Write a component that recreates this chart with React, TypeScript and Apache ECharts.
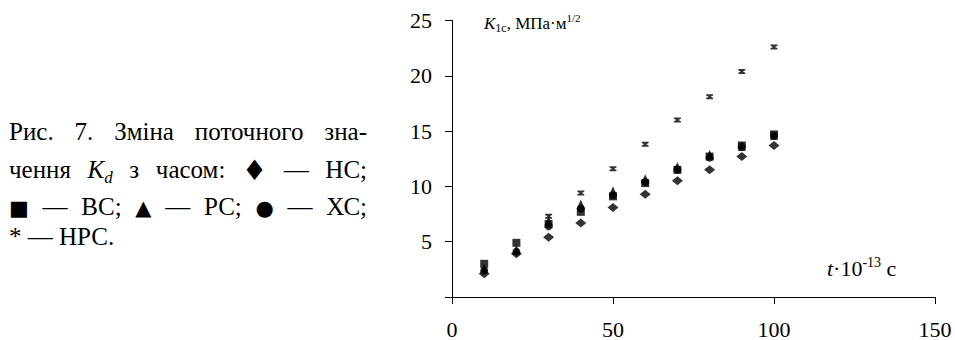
import React, { useEffect, useRef } from "react";
import * as echarts from "echarts";

// ---- data ----
const timeValues = [10, 20, 30, 40, 50, 60, 70, 80, 90, 100];
const hcValues = [2.1, 3.9, 5.4, 6.7, 8.1, 9.3, 10.5, 11.5, 12.7, 13.7]; // НС ♦
const vcValues = [3.0, 4.9, 6.6, 7.7, 9.1, 10.3, 11.5, 12.7, 13.7, 14.7]; // ВС ■
const rcValues = [2.6, 4.3, 6.9, 8.4, 9.6, 10.7, 11.8, 12.9, 13.6, 14.6]; // РС ▲
const xcValues = [2.4, 4.1, 6.4, 8.0, 9.2, 10.4, 11.5, 12.6, 13.6, 14.6]; // ХС ●
const hrcValues = [null, null, 7.3, 9.4, 11.6, 13.8, 16.0, 18.1, 20.4, 22.6]; // НРС *
const seriesNames = ["НС", "ВС", "РС", "ХС", "НРС"];
const xAxisRange = { min: 0, max: 150, interval: 50 };
const yAxisRange = { min: 0, max: 25, interval: 5 };

const FONT = "Liberation Serif";
const SYMFONT = "DejaVu Sans";

type Seg = { t: string; size: number; italic?: boolean; dy?: number; family?: string };

const CAP = 25;
const SYM = 21;
const captionLines: Seg[][][] = [
  [[{ t: "Рис.", size: CAP }], [{ t: "7.", size: CAP }], [{ t: "Зміна", size: CAP }], [{ t: "поточного", size: CAP }], [{ t: "зна-", size: CAP }]],
  [
    [{ t: "чення", size: CAP }],
    [{ t: "K", size: CAP, italic: true }, { t: "d", size: 17, italic: true, dy: 5 }],
    [{ t: "з", size: CAP }],
    [{ t: "часом:", size: CAP }],
    [{ t: "♦", size: 28, family: SYMFONT, dy: 2 }],
    [{ t: "—", size: CAP }],
    [{ t: "НС;", size: CAP }],
  ],
  [
    [{ t: "■", size: SYM, family: SYMFONT }], [{ t: "—", size: CAP }], [{ t: "ВС;", size: CAP }],
    [{ t: "▲", size: SYM, family: SYMFONT }], [{ t: "—", size: CAP }], [{ t: "РС;", size: CAP }],
    [{ t: "●", size: SYM, family: SYMFONT }], [{ t: "—", size: CAP }], [{ t: "ХС;", size: CAP }],
  ],
  [[{ t: "*", size: CAP }], [{ t: "—", size: CAP }], [{ t: "НРС.", size: CAP }]],
];
const captionBaselines = [140, 178, 215, 245];

function fontOf(s: Seg) {
  return `${s.italic ? "italic " : ""}${s.size}px ${s.family || FONT}`;
}

export default function App() {
  const ref = useRef<HTMLDivElement>(null);
  useEffect(() => {
    document.body.style.margin = "0";
    if (!ref.current) return;
    const chart = echarts.init(ref.current, undefined, { renderer: "svg" });
    const canvas = document.createElement("canvas");
    const ctx = canvas.getContext("2d")!;
    const measure = (s: Seg) => {
      ctx.font = fontOf(s);
      return ctx.measureText(s.t).width;
    };
    const segText = (s: Seg, x: number, baseline: number) => ({
      type: "text",
      x,
      y: baseline + (s.dy || 0) - 0.3375 * s.size,
      silent: true,
      style: {
        text: s.t,
        fontSize: s.size,
        fontFamily: s.family || FONT,
        fontStyle: s.italic ? "italic" : "normal",
        fill: "#000",
        align: "left",
        verticalAlign: "middle",
      },
    });
    const runs = (segs: Seg[], x: number, baseline: number) => {
      const out: any[] = [];
      let cx = x;
      segs.forEach((s) => {
        out.push(segText(s, cx, baseline));
        cx += measure(s);
      });
      return out;
    };

    const graphics: any[] = [];
    const left = 9;
    const right = 367;
    captionLines.forEach((words, li) => {
      const widths = words.map((w) => w.reduce((a, s) => a + measure(s), 0));
      const total = widths.reduce((a, b) => a + b, 0);
      const isLast = li === captionLines.length - 1;
      const gap = isLast ? CAP * 0.25 : (right - left - total) / (words.length - 1);
      let cx = left;
      words.forEach((w, wi) => {
        graphics.push(...runs(w, cx, captionBaselines[li]));
        cx += widths[wi] + gap;
      });
    });

    graphics.push(
      ...runs(
        [
          { t: "K", size: 17, italic: true },
          { t: "1c", size: 12, dy: 3 },
          { t: ", МПа·м", size: 17 },
          { t: "1/2", size: 11, dy: -7 },
        ],
        484,
        29
      )
    );
    graphics.push(
      ...runs(
        [
          { t: "t", size: 22, italic: true },
          { t: "·10", size: 22 },
          { t: "-13", size: 14, dy: -9 },
          { t: " с", size: 22 },
        ],
        827,
        276
      )
    );

    const mk = (name: string, vals: (number | null)[], symbol: string, size: any) => ({
      name,
      type: "scatter",
      symbol,
      symbolSize: size,
      itemStyle: { color: "#000" },
      data: timeValues.map((t, i) => (vals[i] == null ? null : [t, vals[i]])).filter((d) => d),
    });

    const starPath = "path://M0,0H10V2.5L6.5,5L10,7.5V10H0V7.5L3.5,5L0,2.5Z";

    chart.setOption({
      animation: false,
      textStyle: { fontFamily: FONT },
      grid: { left: 452, right: 20, top: 20.5, bottom: 42 },
      xAxis: {
        type: "value",
        ...xAxisRange,
        axisLine: { show: true, lineStyle: { color: "#000", width: 1 } },
        axisTick: { show: true, length: 7, lineStyle: { color: "#000" } },
        splitLine: { show: false },
        axisLabel: { color: "#000", fontSize: 22, fontFamily: FONT, margin: 21 },
      },
      yAxis: {
        type: "value",
        ...yAxisRange,
        axisLine: { show: true, onZero: false, lineStyle: { color: "#000", width: 1 } },
        axisTick: { show: true, length: 7, lineStyle: { color: "#000" } },
        splitLine: { show: false },
        axisLabel: {
          color: "#000",
          fontSize: 22,
          fontFamily: FONT,
          margin: 20,
          formatter: (v: number) => (v === 0 ? "" : String(v)),
        },
      },
      series: [
        mk(seriesNames[0], hcValues, "diamond", [11, 9]),
        mk(seriesNames[1], vcValues, "rect", [8, 8]),
        mk(seriesNames[2], rcValues, "triangle", [8, 9]),
        mk(seriesNames[3], xcValues, "circle", 8),
        mk(seriesNames[4], hrcValues, starPath, [7, 5]),
      ],
      graphic: graphics,
    });
    return () => chart.dispose();
  }, []);
  return <div ref={ref} style={{ width: 955, height: 340 }} />;
}
